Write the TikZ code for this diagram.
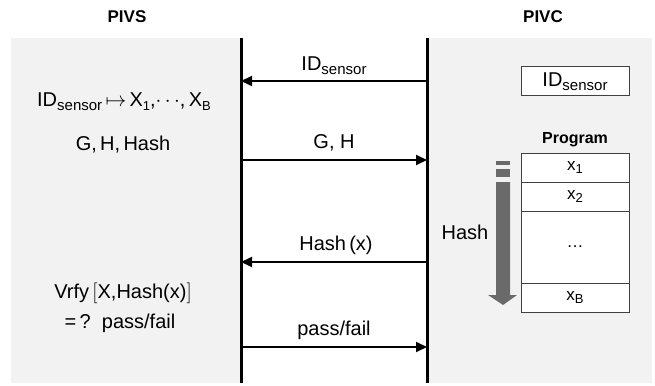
\documentclass[tikz,border=0pt]{standalone}
\usepackage{fontspec}
\setmainfont{Liberation Sans}
\usetikzlibrary{arrows.meta}
\definecolor{panel}{HTML}{F2F2F2}
\definecolor{hashgray}{HTML}{6A6A6A}
\newcommand\mysub[1]{\raisebox{-0.4ex}{\fontsize{15}{16}\selectfont #1}}
\newcommand\mysmallsub[1]{\raisebox{-0.4ex}{\fontsize{13}{14}\selectfont #1}}
\tikzset{
  panelbox/.style={fill=panel,draw=none},
  lifeline/.style={line width=3pt},
  msg/.style={line width=1.8pt,-{Triangle[length=11pt,width=10pt]}},
  txt/.style={font=\fontsize{20}{23}\selectfont,inner sep=0pt},
  title/.style={font=\fontsize{17}{20}\selectfont\bfseries,inner sep=0pt},
  cell/.style={draw=black!75,line width=1pt,fill=white,minimum width=108pt,inner sep=0pt,font=\fontsize{17}{19}\selectfont},
}
\begin{document}
\begin{tikzpicture}[x=1pt,y=-1pt]
\useasboundingbox (0,0) rectangle (655,385);
\fill[white] (0,0) rectangle (655,385);
% panels
\path[panelbox] (11,38) rectangle (241,383);
\path[panelbox] (427,38) rectangle (652,383);
% titles
\node[title] (pivs) at (127,17) {PIVS};
\node[title] (pivc) at (543,17) {PIVC};
% lifelines
\coordinate (LT) at (241,38);
\coordinate (LB) at (241,383);
\coordinate (RT) at (427,38);
\coordinate (RB) at (427,383);
\draw[lifeline] (LT) -- (LB);
\draw[lifeline] (RT) -- (RB);
% messages
\coordinate (L1) at (241,81);  \coordinate (R1) at (427,81);
\coordinate (L2) at (241,160); \coordinate (R2) at (427,160);
\coordinate (L3) at (241,262); \coordinate (R3) at (427,262);
\coordinate (L4) at (241,347); \coordinate (R4) at (427,347);
\draw[msg] (R1) -- (L1);
\draw[msg] (L2) -- (R2);
\draw[msg] (R3) -- (L3);
\draw[msg] (L4) -- (R4);
\node[txt] (m1) at (334,66) {ID\mysub{sensor}};
\node[txt] (m2) at (334,143) {G, H};
\node[txt] (m3) at (336,245) {Hash\,(x)};
\node[txt] (m4) at (334,330) {pass/fail};
% left texts
\node[txt] (t1) at (124,102) {ID\mysub{sensor}\,$\mapsto$\,X\mysmallsub{1},$\cdots$,\,X\mysmallsub{B}};
\node[txt] (t2) at (123,145) {G,\,H,\,Hash};
\node[txt] (t3) at (123,293) {Vrfy\,$\bigl[$X,Hash(x)$\bigr]$};
\node[txt] (t4) at (120,323) {=\,?\ \ pass/fail};
% right side
\node[draw=black!75,line width=1pt,fill=white,minimum width=108pt,minimum height=29pt,inner sep=0pt,font=\fontsize{20}{23}\selectfont] (idbox) at (575,81.5) {ID\mysub{sensor}};
\node[font=\fontsize{16}{18}\selectfont\bfseries,inner sep=0pt] (prog) at (575,140) {Program};
\node[cell,minimum height=29pt] (x1) at (575,167.5) {x\mysmallsub{1}};
\node[cell,minimum height=29pt] (x2) at (575,196.5) {x\mysmallsub{2}};
\node[cell,minimum height=72pt] (xd) at (575,247) {\dots};
\node[cell,minimum height=29pt] (xb) at (575,297.5) {x\mysmallsub{B}};
% hash arrow
\fill[hashgray] (496,161) rectangle (510,164.5);
\fill[hashgray] (496,169) rectangle (510,177);
\fill[hashgray] (496,182) -- (510,182) -- (510,295) -- (517,295) -- (503,305) -- (488,295) -- (496,295) -- cycle;
\node[txt] (hash) at (465,232) {Hash};
\end{tikzpicture}
\end{document}
